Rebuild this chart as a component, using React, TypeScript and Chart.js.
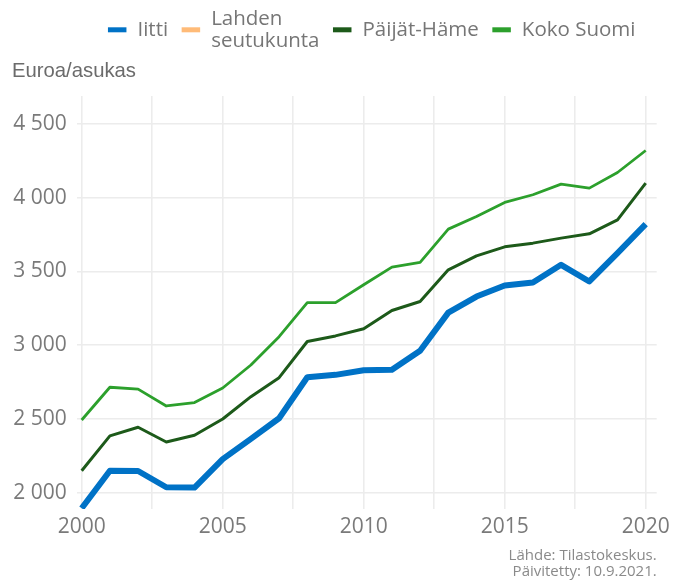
import React, { useEffect, useRef } from 'react';
import Chart from 'chart.js/auto';

// ---- data ----
const years = [2000, 2001, 2002, 2003, 2004, 2005, 2006, 2007, 2008, 2009, 2010, 2011, 2012, 2013, 2014, 2015, 2016, 2017, 2018, 2019, 2020];
const iitti = [1895, 2149, 2147, 2037, 2035, 2228, 2365, 2505, 2783, 2799, 2830, 2833, 2963, 3221, 3330, 3405, 3425, 3545, 3432, 3624, 3821];
const lahdenSeutukunta: number[] = [];
const paijatHame = [2149, 2385, 2444, 2344, 2389, 2500, 2651, 2780, 3025, 3063, 3112, 3235, 3296, 3511, 3606, 3667, 3692, 3726, 3755, 3850, 4099];
const kokoSuomi = [2493, 2715, 2702, 2588, 2611, 2710, 2866, 3058, 3289, 3289, 3410, 3529, 3561, 3787, 3873, 3968, 4020, 4092, 4065, 4171, 4320];

const seriesNames = ['Iitti', 'Lahden\nseutukunta', 'Päijät-Häme', 'Koko Suomi'];
const seriesColors = ['#0072C6', '#FFBB78', '#1D5A1A', '#2CA02C'];
const seriesWidths = [6, 3, 3, 2.8];

const yTickValues = [2000, 2500, 3000, 3500, 4000, 4500];
const yTickLabels = ['2 000', '2 500', '3 000', '3 500', '4 000', '4 500'];
const xTickValues = [2000, 2005, 2010, 2015, 2020];
const xMinorValues = [2002.5, 2007.5, 2012.5, 2017.5];
const yAxisTitle = 'Euroa/asukas';
const captionLines = ['Lähde: Tilastokeskus.', 'Päivitetty: 10.9.2021.'];

const FONT = 'Open Sans';

const toPoints = (vals: number[]) => vals.map((v, i) => ({ x: years[i], y: v }));

const legendPlugin = {
  id: 'ggLegend',
  afterDraw(chart: any) {
    const { ctx, chartArea } = chart;
    const fontSize = 20.5;
    const lineGap = 21.7;
    const baseY = 35.8;
    const boxW = 18.5;
    const boxH = 5;
    const textGap = 11;
    const itemGap = 13.5;
    ctx.save();
    ctx.font = `${fontSize}px "${FONT}"`;
    ctx.textBaseline = 'alphabetic';
    ctx.textAlign = 'left';
    const items = chart.data.datasets.map((ds: any) => {
      const lines = String(ds.label).split('\n');
      const w = Math.max(...lines.map((l: string) => ctx.measureText(l).width));
      return { lines, w, color: ds.borderColor };
    });
    const total = items.reduce((s: number, it: any) => s + boxW + textGap + it.w, 0) + itemGap * (items.length - 1);
    let x = (chartArea.left + chartArea.right) / 2 - total / 2 + 5;
    items.forEach((it: any) => {
      ctx.fillStyle = it.color;
      ctx.fillRect(x, baseY - 6 - boxH / 2, boxW, boxH);
      ctx.fillStyle = '#767676';
      const n = it.lines.length;
      it.lines.forEach((l: string, i: number) => {
        ctx.fillText(l, x + boxW + textGap, baseY + (i - (n - 1) / 2) * lineGap);
      });
      x += boxW + textGap + it.w + itemGap;
    });
    ctx.restore();
  },
};

export default function App() {
  const ref = useRef<HTMLCanvasElement | null>(null);

  useEffect(() => {
    if (!ref.current) return;
    const seriesData = [iitti, lahdenSeutukunta, paijatHame, kokoSuomi];
    const chart = new Chart(ref.current, {
      type: 'line',
      data: {
        datasets: seriesNames.map((name, i) => ({
          label: name,
          data: toPoints(seriesData[i]),
          borderColor: seriesColors[i],
          backgroundColor: seriesColors[i],
          borderWidth: seriesWidths[i],
          pointRadius: 0,
          tension: 0,
          fill: false,
          borderJoinStyle: 'round' as const,
        })),
      },
      options: {
        animation: false,
        responsive: true,
        maintainAspectRatio: false,
        events: [],
        layout: { padding: { top: 56, left: 12, right: 26.3, bottom: 2.75 } },
        plugins: {
          legend: { display: false },
          tooltip: { enabled: false },
          title: {
            display: true,
            text: yAxisTitle,
            align: 'start',
            position: 'top',
            color: '#6b6b6b',
            font: { family: 'Liberation Sans', size: 20.3, weight: 'normal', lineHeight: 1.2 },
            padding: { top: 3, bottom: 12.6 },
          },
          subtitle: {
            display: true,
            text: captionLines,
            align: 'end',
            position: 'bottom',
            color: '#8a8a8a',
            font: { family: FONT, size: 15, weight: 'normal', lineHeight: 1.1 },
            padding: { top: 9.25, bottom: 0 },
          },
        },
        scales: {
          x: {
            type: 'linear',
            min: 1999.823,
            max: 2020.39,
            border: { display: false },
            grid: { color: '#ececec', lineWidth: 1.6, drawTicks: false },
            afterBuildTicks: (scale: any) => {
              scale.ticks = [...xTickValues, ...xMinorValues].sort((a, b) => a - b).map((v) => ({ value: v }));
            },
            afterFit: (scale: any) => {
              scale.height = 29;
            },
            ticks: {
              autoSkip: false,
              maxRotation: 0,
              padding: 5,
              color: '#7a7a7a',
              font: { family: FONT, size: 21, lineHeight: 1.2 },
              callback: (value: any) => (xTickValues.includes(Number(value)) ? String(value) : ''),
            },
          },
          y: {
            type: 'linear',
            min: 1889.5,
            max: 4689.9,
            border: { display: false },
            grid: { color: '#ececec', lineWidth: 1.6, drawTicks: false },
            afterBuildTicks: (scale: any) => {
              scale.ticks = yTickValues.map((v) => ({ value: v }));
            },
            afterFit: (scale: any) => {
              scale.width = 64.7;
            },
            ticks: {
              padding: 10,
              color: '#7a7a7a',
              font: { family: FONT, size: 21, lineHeight: 1.2 },
              callback: (value: any) => {
                const idx = yTickValues.indexOf(Number(value));
                return idx >= 0 ? yTickLabels[idx] : '';
              },
            },
          },
        },
      },
      plugins: [legendPlugin],
    } as any);
    return () => chart.destroy();
  }, []);

  return (
    <div style={{ position: 'absolute', left: 0, top: 0, width: 683, height: 583 }}>
      <canvas ref={ref} />
    </div>
  );
}
